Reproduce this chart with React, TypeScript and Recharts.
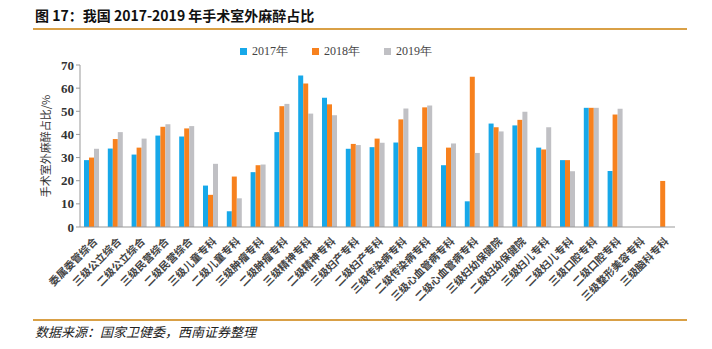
import React from 'react';
import { BarChart, Bar, XAxis, YAxis } from 'recharts';

const categories = [
  '委属委管综合', '三级公立综合', '二级公立综合', '三级民营综合', '二级民营综合',
  '三级儿童专科', '二级儿童专科', '三级肿瘤专科', '二级肿瘤专科', '三级精神专科',
  '二级精神专科', '三级妇产专科', '二级妇产专科', '三级传染病专科', '二级传染病专科',
  '三级心血管病专科', '二级心血管病专科', '三级妇幼保健院', '二级妇幼保健院', '三级妇儿专科',
  '二级妇儿专科', '三级口腔专科', '二级口腔专科', '三级整形美容专科', '三级脑科专科',
];
const v2017 = [28.9, 33.9, 31.3, 39.5, 39.1, 17.9, 6.8, 23.7, 41, 65.5, 55.8, 33.8, 34.5, 36.5, 34.6, 26.7, 11.1, 44.7, 43.9, 34.3, 28.9, 51.5, 24.2, null, null];
const v2018 = [30, 38, 34.3, 43.3, 42.6, 13.9, 21.8, 26.7, 52.2, 62, 53, 35.9, 38.2, 46.5, 51.7, 34.3, 64.9, 43.1, 46.3, 33.5, 28.9, 51.5, 48.6, null, 19.9];
const v2019 = [33.8, 41, 38.2, 44.4, 43.6, 27.3, 12.4, 27, 53.2, 49, 48.3, 35.4, 36.4, 51.2, 52.5, 36.1, 32, 41.3, 49.8, 43.1, 24.1, 51.5, 51.1, null, null];
const yTicks = [0, 10, 20, 30, 40, 50, 60, 70];
const seriesNames = ['2017年', '2018年', '2019年'];
const colors = ['#17a8e9', '#f7811e', '#c0c0c4'];

const data = categories.map((c, i) => ({ name: c, a: v2017[i], b: v2018[i], c: v2019[i] }));

const XTick = (props: any) => {
  const { x, y, payload } = props;
  return (
    <text
      x={x + 3}
      y={y + 4}
      transform={`rotate(-45 ${x + 3} ${y + 4})`}
      textAnchor="end"
      dominantBaseline="central"
      fontSize={10.5}
      fontWeight="bold"
      fill="#444"
      fontFamily="'Noto Sans CJK SC'"
    >
      {payload.value}
    </text>
  );
};

export default function App() {
  return (
    <div style={{ position: 'absolute', left: 0, top: 0, width: 712, height: 349, background: '#fff' }}>
      <div
        style={{
          position: 'absolute', left: 35, top: 5, fontSize: 14, fontWeight: 'bold',
          fontFamily: "'Noto Sans CJK SC'", color: '#111', whiteSpace: 'nowrap', lineHeight: '20px',
        }}
      >
        图 17：我国 2017-2019 年手术室外麻醉占比
      </div>
      <div style={{ position: 'absolute', left: 33, top: 28, width: 654, height: 2, background: '#d9a046' }} />
      <div
        style={{
          position: 'absolute', left: 240, top: 43, display: 'flex',
          fontFamily: "'Liberation Serif'", fontSize: 12, color: '#444', lineHeight: '16px',
        }}
      >
        {seriesNames.map((n, i) => (
          <div key={n} style={{ display: 'flex', alignItems: 'center', marginRight: 24 }}>
            <span style={{ display: 'inline-block', width: 7, height: 7, background: colors[i], marginRight: 5 }} />
            <span>{n}</span>
          </div>
        ))}
      </div>
      <BarChart
        width={712}
        height={349}
        data={data}
        margin={{ top: 65, right: 37, bottom: 0, left: 40 }}
        barSize={5}
        barGap={0}
        style={{ position: 'absolute', left: 0, top: 0 }}
      >
        <XAxis
          dataKey="name"
          interval={0}
          tick={<XTick />}
          tickLine={false}
          axisLine={{ stroke: '#999' }}
          height={122}
        />
        <YAxis
          width={40}
          domain={[0, 70]}
          ticks={yTicks}
          interval={0}
          tick={{ fontSize: 13, fill: '#333', fontFamily: "'Liberation Serif'", fontWeight: 'bold' }}
          tickLine={{ stroke: '#999' }}
          tickSize={4}
          axisLine={{ stroke: '#999' }}
          label={{
            value: '手术室外麻醉占比/%', angle: -90, position: 'insideLeft', offset: 6,
            style: { fontSize: 11, fill: '#333', fontFamily: "'Noto Sans CJK SC'", textAnchor: 'middle' },
          }}
        />
        <Bar dataKey="a" name={seriesNames[0]} fill={colors[0]} isAnimationActive={false} />
        <Bar dataKey="b" name={seriesNames[1]} fill={colors[1]} isAnimationActive={false} />
        <Bar dataKey="c" name={seriesNames[2]} fill={colors[2]} isAnimationActive={false} />
      </BarChart>
      <div style={{ position: 'absolute', left: 33, top: 319, width: 654, height: 2, background: '#d9a046' }} />
      <div
        style={{
          position: 'absolute', left: 35, top: 323, fontSize: 13, fontStyle: 'italic',
          fontFamily: "'Noto Sans CJK SC'", color: '#222', whiteSpace: 'nowrap', lineHeight: '18px',
        }}
      >
        数据来源：国家卫健委，西南证券整理
      </div>
    </div>
  );
}
